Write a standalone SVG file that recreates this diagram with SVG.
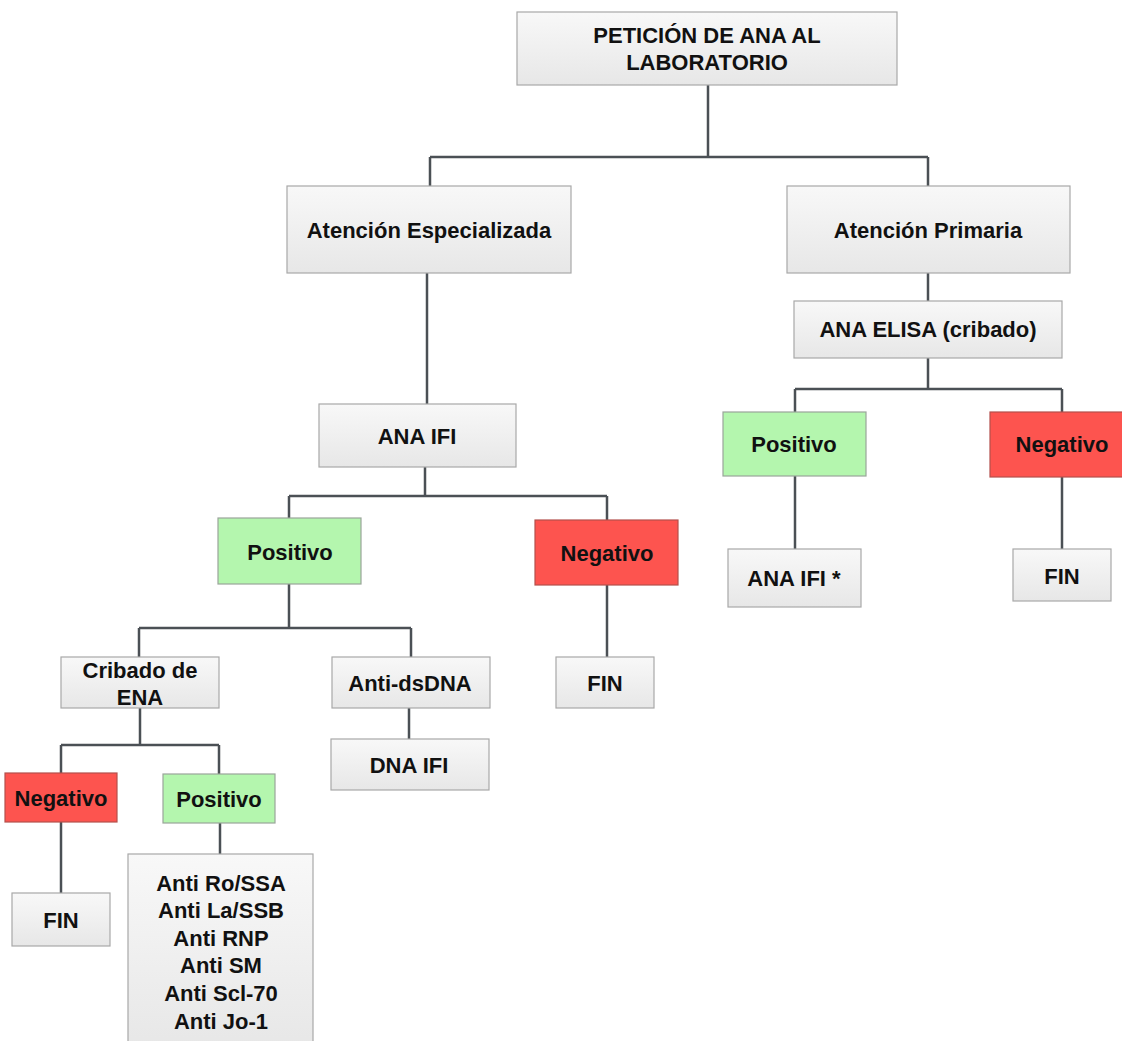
<svg xmlns="http://www.w3.org/2000/svg" width="1122" height="1041" viewBox="0 0 1122 1041">
<defs>
<linearGradient id="gray" x1="0" y1="0" x2="0" y2="1">
<stop offset="0" stop-color="#f8f8f8"/>
<stop offset="1" stop-color="#e7e7e7"/>
</linearGradient>
<style>
.box{fill:url(#gray);stroke:#a8a8a8;stroke-width:1.2}
.pos{fill:#b4f6ae;stroke:#9aa59a;stroke-width:1.2}
.neg{fill:#fd544f;stroke:#b4504c;stroke-width:1.2}
text{font-family:"Liberation Sans",Arial,sans-serif;font-weight:bold;font-size:22px;fill:#111;text-anchor:middle}
.conn path{fill:none;stroke:#4b5055;stroke-width:2.5}
</style>
</defs>
<rect width="1122" height="1041" fill="#fff"/>
<g class="conn" id="connectors">
<path d="M708 85V157M430 157H928M430 157V186M928 157V186"/>
<path d="M427 273V404"/>
<path d="M425 467V496M289 496H607M289 496V519M607 496V520"/>
<path d="M607 585V657"/>
<path d="M289 584V628M139 628H411M139 628V657M411 628V657"/>
<path d="M409 708V739"/>
<path d="M140 708V745M61 745H219M61 745V773M219 745V774"/>
<path d="M61 822V893"/>
<path d="M220 823V854"/>
<path d="M928 273V301"/>
<path d="M928 358V389M795 389H1062M795 389V412M1062 389V412"/>
<path d="M795 476V549"/>
<path d="M1062 477V549"/>
</g>
<g id="n-peticion"><rect class="box" x="517" y="12" width="380" height="73"/><text x="707" y="43">PETICIÓN DE ANA AL</text><text x="707" y="70">LABORATORIO</text></g>
<g id="n-especializada"><rect class="box" x="287" y="186" width="284" height="87"/><text x="429" y="238">Atención Especializada</text></g>
<g id="n-primaria"><rect class="box" x="787" y="186" width="283" height="87"/><text x="928" y="238">Atención Primaria</text></g>
<g id="n-elisa"><rect class="box" x="794" y="301" width="268" height="57"/><text x="928" y="337">ANA ELISA (cribado)</text></g>
<g id="n-pos-r"><rect class="pos" x="723" y="412" width="143" height="64"/><text x="794" y="452">Positivo</text></g>
<g id="n-neg-r"><rect class="neg" x="990" y="412" width="144" height="65"/><text x="1062" y="452">Negativo</text></g>
<g id="n-anaifi-star"><rect class="box" x="728" y="549" width="133" height="58"/><text x="794" y="586">ANA IFI *</text></g>
<g id="n-fin-r"><rect class="box" x="1013" y="549" width="98" height="52"/><text x="1062" y="584">FIN</text></g>
<g id="n-anaifi"><rect class="box" x="319" y="404" width="197" height="63"/><text x="417" y="444">ANA IFI</text></g>
<g id="n-pos-l"><rect class="pos" x="218" y="518" width="143" height="66"/><text x="290" y="560">Positivo</text></g>
<g id="n-neg-l"><rect class="neg" x="535" y="520" width="143" height="65"/><text x="607" y="561">Negativo</text></g>
<g id="n-fin-m"><rect class="box" x="556" y="657" width="98" height="51"/><text x="605" y="691">FIN</text></g>
<g id="n-cribado"><rect class="box" x="61" y="657" width="158" height="51"/><text x="140" y="678">Cribado de</text><text x="140" y="705">ENA</text></g>
<g id="n-antidsdna"><rect class="box" x="332" y="657" width="158" height="51"/><text x="410" y="691">Anti-dsDNA</text></g>
<g id="n-dnaifi"><rect class="box" x="331" y="739" width="158" height="51"/><text x="409" y="773">DNA IFI</text></g>
<g id="n-neg-b"><rect class="neg" x="5" y="773" width="112" height="49"/><text x="61" y="806">Negativo</text></g>
<g id="n-pos-b"><rect class="pos" x="163" y="774" width="112" height="49"/><text x="219" y="807">Positivo</text></g>
<g id="n-fin-b"><rect class="box" x="12" y="893" width="98" height="53"/><text x="61" y="928">FIN</text></g>
<g id="n-anti-list"><rect class="box" x="128" y="854" width="185" height="195"/>
<text x="221" y="891">Anti Ro/SSA</text>
<text x="221" y="918">Anti La/SSB</text>
<text x="221" y="946">Anti RNP</text>
<text x="221" y="973">Anti SM</text>
<text x="221" y="1001">Anti Scl-70</text>
<text x="221" y="1029">Anti Jo-1</text>
</g>
</svg>
